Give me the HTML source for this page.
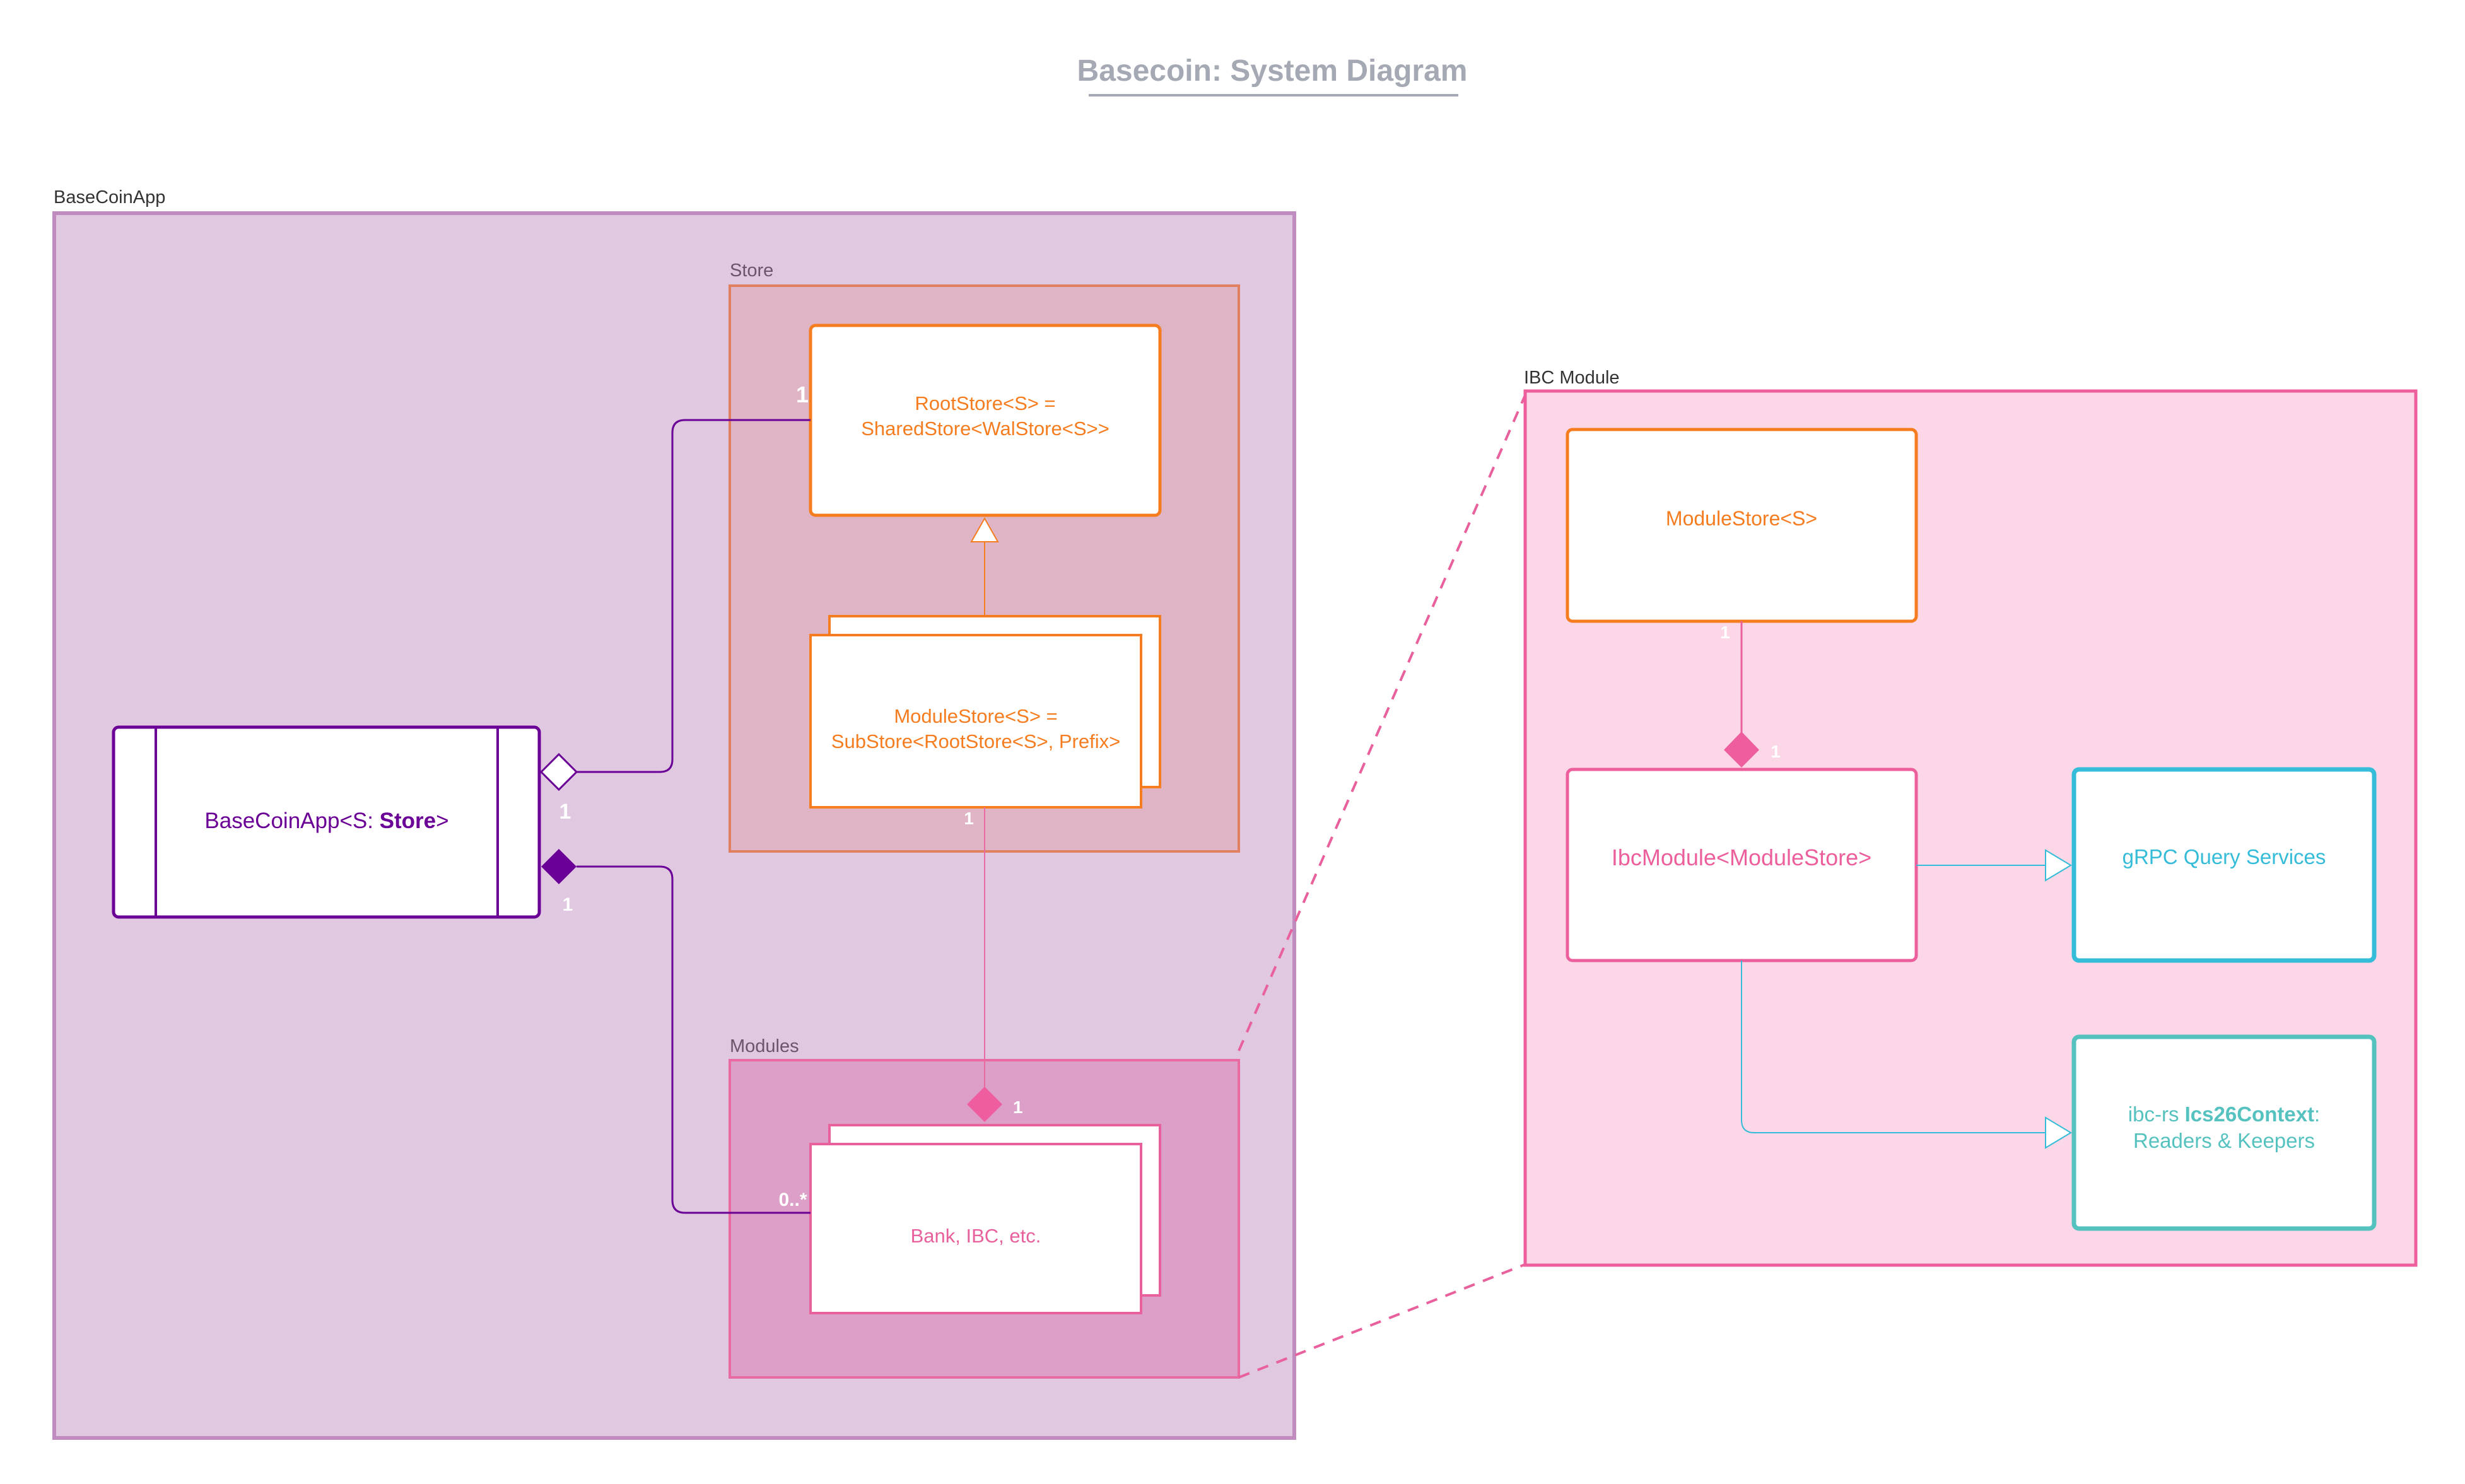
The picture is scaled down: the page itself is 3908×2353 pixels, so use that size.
<!DOCTYPE html>
<html><head><meta charset="utf-8"><style>html,body{margin:0;padding:0;background:#fff}svg{display:block}text{font-family:"Liberation Sans",sans-serif}</style></head>
<body>
<svg width="3908" height="2353" viewBox="0 0 3908 2353" xmlns="http://www.w3.org/2000/svg">
<text x="2017" y="128" text-anchor="middle" font-size="48" font-weight="bold" fill="#a5a9b4">Basecoin: System Diagram</text>
<line x1="1726" y1="151" x2="2312" y2="151" stroke="#a5a9b4" stroke-width="4"/>

<text x="85" y="322" font-size="29" fill="#333">BaseCoinApp</text>
<rect x="86" y="338" width="1966" height="1942" fill="#dfc8e0" stroke="#c08cc0" stroke-width="6"/>

<text x="1157" y="438" font-size="29" fill="#6e5468">Store</text>
<rect x="1157" y="453" width="807" height="897" fill="#dfb4c4" stroke="#e08060" stroke-width="4"/>
<rect x="1285" y="516" width="554" height="301" rx="8" fill="#fff" stroke="#f57c1f" stroke-width="5"/>
<text x="1562" y="650" text-anchor="middle" font-size="31" fill="#f57c1f">RootStore&lt;S&gt; =</text>
<text x="1562" y="690" text-anchor="middle" font-size="31" fill="#f57c1f">SharedStore&lt;WalStore&lt;S&gt;&gt;</text>
<line x1="1561" y1="859" x2="1561" y2="977" stroke="#f57c1f" stroke-width="2"/>
<polygon points="1561,822 1540,859 1582,859" fill="#fff" stroke="#f57c1f" stroke-width="2"/>
<rect x="1315" y="977" width="524" height="271" fill="#fff" stroke="#f57c1f" stroke-width="4"/>
<rect x="1285" y="1007" width="524" height="273" fill="#fff" stroke="#f57c1f" stroke-width="4"/>
<text x="1547" y="1146" text-anchor="middle" font-size="31" fill="#f57c1f">ModuleStore&lt;S&gt; =</text>
<text x="1547" y="1186" text-anchor="middle" font-size="31" fill="#f57c1f">SubStore&lt;RootStore&lt;S&gt;, Prefix&gt;</text>
<text x="1536" y="1307" text-anchor="middle" font-size="28" fill="#fff" font-weight="bold">1</text>

<text x="1157" y="1668" font-size="29" fill="#6e5468">Modules</text>
<rect x="1157" y="1681" width="807" height="503" fill="#dca0c8" stroke="#e86aa0" stroke-width="4"/>
<line x1="1561" y1="1280" x2="1561" y2="1725" stroke="#e86aa0" stroke-width="2"/>
<rect x="1315" y="1784" width="524" height="270" fill="#fff" stroke="#e8609c" stroke-width="4"/>
<rect x="1285" y="1814" width="524" height="268" fill="#fff" stroke="#e8609c" stroke-width="4"/>
<text x="1547" y="1970" text-anchor="middle" font-size="31" fill="#e8609c">Bank, IBC, etc.</text>
<polygon points="1561,1723 1589,1751 1561,1779 1533,1751" fill="#ee5e9e"/>
<text x="1606" y="1765" font-size="28" fill="#fff" font-weight="bold">1</text>

<path d="M914,1224 H1046 Q1066,1224 1066,1204 V686 Q1066,666 1086,666 H1285" fill="none" stroke="#6a0096" stroke-width="3"/>
<path d="M914,1374 H1046 Q1066,1374 1066,1394 V1903 Q1066,1923 1086,1923 H1285" fill="none" stroke="#6a0096" stroke-width="3"/>
<text x="1272" y="638" text-anchor="middle" font-size="36" fill="#fff" font-weight="bold">1</text>
<text x="1257" y="1912" text-anchor="middle" font-size="30" fill="#fff" font-weight="bold">0..*</text>

<rect x="180" y="1153" width="675" height="301" rx="8" fill="#fff" stroke="#6a0096" stroke-width="5"/>
<line x1="247" y1="1153" x2="247" y2="1454" stroke="#6a0096" stroke-width="4"/>
<line x1="789" y1="1153" x2="789" y2="1454" stroke="#6a0096" stroke-width="4"/>
<text x="518" y="1313" text-anchor="middle" font-size="35" fill="#6a0096">BaseCoinApp&lt;S: <tspan font-weight="bold">Store</tspan>&gt;</text>
<polygon points="858,1224 886,1196 914,1224 886,1252" fill="#fff" stroke="#6a0096" stroke-width="3"/>
<polygon points="858,1374 886,1346 914,1374 886,1402" fill="#6a0096"/>
<text x="896" y="1298" text-anchor="middle" font-size="34" fill="#fff" font-weight="bold">1</text>
<text x="900" y="1444" text-anchor="middle" font-size="30" fill="#fff" font-weight="bold">1</text>

<line x1="1964" y1="1666" x2="2420" y2="622" stroke="#e8609c" stroke-width="4" stroke-dasharray="18,14"/>
<line x1="1964" y1="2184" x2="2420" y2="2004" stroke="#e8609c" stroke-width="4" stroke-dasharray="18,14"/>

<text x="2416" y="608" font-size="29" fill="#333">IBC Module</text>
<rect x="2418" y="620" width="1412" height="1386" fill="#fbd7e7" stroke="#ec5f9c" stroke-width="5"/>
<rect x="2485" y="681" width="553" height="304" rx="8" fill="#fff" stroke="#f57c1f" stroke-width="5"/>
<text x="2761" y="833" text-anchor="middle" font-size="32" fill="#f57c1f">ModuleStore&lt;S&gt;</text>
<line x1="2761" y1="985" x2="2761" y2="1165" stroke="#ec5f9c" stroke-width="3"/>
<polygon points="2761,1160 2789,1189 2761,1217 2733,1189" fill="#ee5e9e"/>
<text x="2735" y="1012" text-anchor="middle" font-size="28" fill="#fff" font-weight="bold">1</text>
<text x="2815" y="1201" text-anchor="middle" font-size="28" fill="#fff" font-weight="bold">1</text>
<rect x="2485" y="1220" width="553" height="303" rx="8" fill="#fff" stroke="#ec5f9c" stroke-width="5"/>
<text x="2761" y="1372" text-anchor="middle" font-size="36" fill="#ec5f9c">IbcModule&lt;ModuleStore&gt;</text>

<line x1="3038" y1="1372" x2="3243" y2="1372" stroke="#35bcd8" stroke-width="2"/>
<polygon points="3243,1348 3283,1372 3243,1396" fill="#fff" stroke="#35bcd8" stroke-width="2"/>
<path d="M2761,1523 V1776 Q2761,1796 2781,1796 H3243" fill="none" stroke="#35bcd8" stroke-width="2"/>
<polygon points="3243,1772 3283,1796 3243,1820" fill="#fff" stroke="#35bcd8" stroke-width="2"/>

<rect x="3288" y="1220" width="476" height="303" rx="8" fill="#fff" stroke="#35bcd8" stroke-width="7"/>
<text x="3526" y="1370" text-anchor="middle" font-size="33" fill="#35bcd8">gRPC Query Services</text>
<rect x="3288" y="1644" width="476" height="304" rx="8" fill="#fff" stroke="#56c2bf" stroke-width="7"/>
<text x="3526" y="1778" text-anchor="middle" font-size="33" fill="#56c2bf">ibc-rs <tspan font-weight="bold">Ics26Context</tspan>:</text>
<text x="3526" y="1820" text-anchor="middle" font-size="33" fill="#56c2bf">Readers &amp; Keepers</text>
</svg>
</body></html>
